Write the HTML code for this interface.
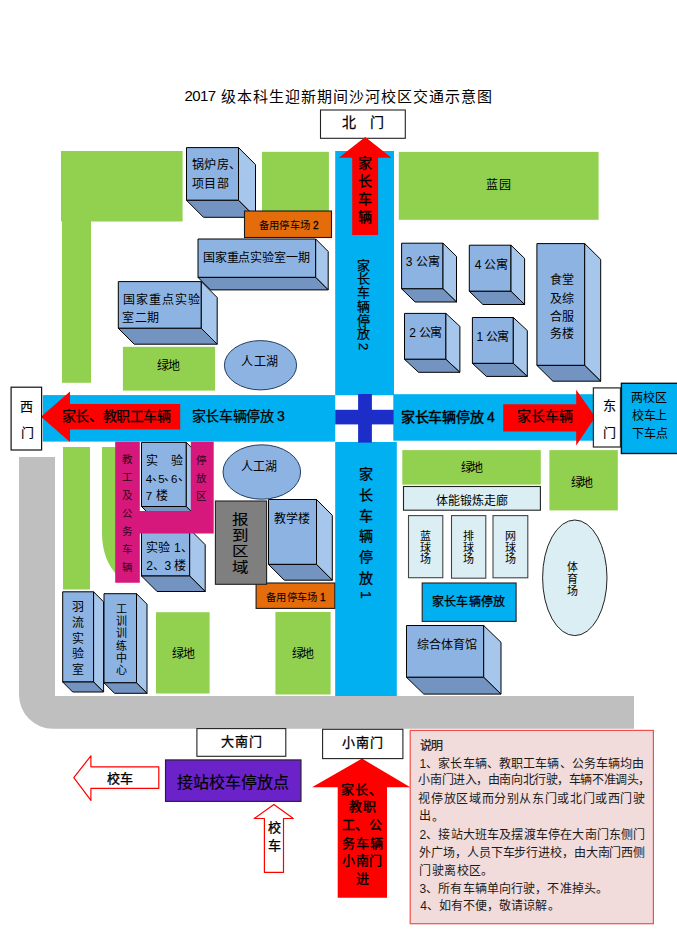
<!DOCTYPE html>
<html lang="zh-CN"><head><meta charset="utf-8"><style>
html,body{margin:0;padding:0;background:#fff;width:677px;height:942px;overflow:hidden;}
svg{position:absolute;left:0;top:0;}
text{font-family:"Liberation Sans",sans-serif;}
</style></head><body>
<svg width="677" height="942" viewBox="0 0 677 942">
<rect x="61" y="151" width="121.60" height="70.50" fill="#92D050"/>
<rect x="62" y="221" width="29.00" height="161.80" fill="#92D050"/>
<rect x="262" y="151.8" width="66.90" height="63.20" fill="#92D050"/>
<rect x="398.8" y="151.9" width="199.80" height="67.90" fill="#92D050"/>
<rect x="122.9" y="346.8" width="92.20" height="43.80" fill="#92D050"/>
<rect x="63" y="447" width="27.00" height="142.50" fill="#92D050"/>
<path d="M102,447 L118,447 L118,576 C108,566 102,552 102,533 Z" fill="#92D050"/>
<rect x="156" y="612.2" width="53.60" height="81.30" fill="#92D050"/>
<rect x="275.4" y="612" width="55.20" height="82.50" fill="#92D050"/>
<rect x="402.3" y="450.1" width="138.50" height="34.50" fill="#92D050"/>
<rect x="549.4" y="450.1" width="68.40" height="60.30" fill="#92D050"/>
<path d="M19,457 L55,457 L55,696 L634,696 L634,728.8 L53,728.8 A34,34 0 0 1 19,694.8 Z" fill="#BFBFBF"/>
<rect x="335.2" y="151" width="58.80" height="244.20" fill="#00B0F0"/>
<rect x="42.8" y="395.1" width="292.40" height="46.50" fill="#00B0F0"/>
<rect x="393.3" y="394.2" width="200.70" height="46.50" fill="#00B0F0"/>
<rect x="335.2" y="442" width="61.60" height="254.00" fill="#00B0F0"/>
<rect x="358.1" y="394" width="13.80" height="48.60" fill="#1C2DC8"/>
<rect x="335.2" y="409.8" width="58.50" height="14.60" fill="#1C2DC8"/>
<polygon points="186.50,147.60 238.50,147.60 238.50,200.30 186.50,200.30" fill="#8DB3E2" stroke="#000" stroke-width="1.0" stroke-linejoin="round"/>
<polygon points="238.50,147.60 255.50,164.60 255.50,217.30 238.50,200.30" fill="#A7C6EC" stroke="#000" stroke-width="1.0" stroke-linejoin="round"/>
<polygon points="186.50,200.30 238.50,200.30 255.50,217.30 203.50,217.30" fill="#7393C1" stroke="#000" stroke-width="1.0" stroke-linejoin="round"/>
<polygon points="198.00,239.00 315.70,239.00 315.70,277.40 198.00,277.40" fill="#8DB3E2" stroke="#000" stroke-width="1.0" stroke-linejoin="round"/>
<polygon points="315.70,239.00 328.20,251.50 328.20,289.90 315.70,277.40" fill="#A7C6EC" stroke="#000" stroke-width="1.0" stroke-linejoin="round"/>
<polygon points="198.00,277.40 315.70,277.40 328.20,289.90 210.50,289.90" fill="#7393C1" stroke="#000" stroke-width="1.0" stroke-linejoin="round"/>
<polygon points="118.30,281.60 201.30,281.60 201.30,328.30 118.30,328.30" fill="#8DB3E2" stroke="#000" stroke-width="1.0" stroke-linejoin="round"/>
<polygon points="201.30,281.60 217.20,297.50 217.20,344.20 201.30,328.30" fill="#A7C6EC" stroke="#000" stroke-width="1.0" stroke-linejoin="round"/>
<polygon points="118.30,328.30 201.30,328.30 217.20,344.20 134.20,344.20" fill="#7393C1" stroke="#000" stroke-width="1.0" stroke-linejoin="round"/>
<polygon points="401.60,243.20 443.00,243.20 443.00,288.80 401.60,288.80" fill="#8DB3E2" stroke="#000" stroke-width="1.0" stroke-linejoin="round"/>
<polygon points="443.00,243.20 456.50,256.40 456.50,302.00 443.00,288.80" fill="#A7C6EC" stroke="#000" stroke-width="1.0" stroke-linejoin="round"/>
<polygon points="401.60,288.80 443.00,288.80 456.50,302.00 415.10,302.00" fill="#7393C1" stroke="#000" stroke-width="1.0" stroke-linejoin="round"/>
<polygon points="469.30,245.20 511.00,245.20 511.00,291.30 469.30,291.30" fill="#8DB3E2" stroke="#000" stroke-width="1.0" stroke-linejoin="round"/>
<polygon points="511.00,245.20 524.60,258.40 524.60,304.50 511.00,291.30" fill="#A7C6EC" stroke="#000" stroke-width="1.0" stroke-linejoin="round"/>
<polygon points="469.30,291.30 511.00,291.30 524.60,304.50 482.90,304.50" fill="#7393C1" stroke="#000" stroke-width="1.0" stroke-linejoin="round"/>
<polygon points="536.90,243.60 584.70,243.60 584.70,365.40 536.90,365.40" fill="#8DB3E2" stroke="#000" stroke-width="1.0" stroke-linejoin="round"/>
<polygon points="584.70,243.60 600.70,259.40 600.70,381.20 584.70,365.40" fill="#A7C6EC" stroke="#000" stroke-width="1.0" stroke-linejoin="round"/>
<polygon points="536.90,365.40 584.70,365.40 600.70,381.20 552.90,381.20" fill="#7393C1" stroke="#000" stroke-width="1.0" stroke-linejoin="round"/>
<polygon points="404.50,313.40 445.90,313.40 445.90,359.30 404.50,359.30" fill="#8DB3E2" stroke="#000" stroke-width="1.0" stroke-linejoin="round"/>
<polygon points="445.90,313.40 459.90,326.40 459.90,372.30 445.90,359.30" fill="#A7C6EC" stroke="#000" stroke-width="1.0" stroke-linejoin="round"/>
<polygon points="404.50,359.30 445.90,359.30 459.90,372.30 418.50,372.30" fill="#7393C1" stroke="#000" stroke-width="1.0" stroke-linejoin="round"/>
<polygon points="472.40,317.50 513.30,317.50 513.30,363.40 472.40,363.40" fill="#8DB3E2" stroke="#000" stroke-width="1.0" stroke-linejoin="round"/>
<polygon points="513.30,317.50 527.30,330.50 527.30,376.40 513.30,363.40" fill="#A7C6EC" stroke="#000" stroke-width="1.0" stroke-linejoin="round"/>
<polygon points="472.40,363.40 513.30,363.40 527.30,376.40 486.40,376.40" fill="#7393C1" stroke="#000" stroke-width="1.0" stroke-linejoin="round"/>
<polygon points="141.50,442.40 186.30,442.40 186.30,506.50 141.50,506.50" fill="#8DB3E2" stroke="#000" stroke-width="1.0" stroke-linejoin="round"/>
<polygon points="186.30,442.40 202.30,458.40 202.30,522.50 186.30,506.50" fill="#A7C6EC" stroke="#000" stroke-width="1.0" stroke-linejoin="round"/>
<polygon points="141.50,506.50 186.30,506.50 202.30,522.50 157.50,522.50" fill="#7393C1" stroke="#000" stroke-width="1.0" stroke-linejoin="round"/>
<polygon points="141.50,529.20 189.70,529.20 189.70,576.00 141.50,576.00" fill="#8DB3E2" stroke="#000" stroke-width="1.0" stroke-linejoin="round"/>
<polygon points="189.70,529.20 205.20,544.70 205.20,591.50 189.70,576.00" fill="#A7C6EC" stroke="#000" stroke-width="1.0" stroke-linejoin="round"/>
<polygon points="141.50,576.00 189.70,576.00 205.20,591.50 157.00,591.50" fill="#7393C1" stroke="#000" stroke-width="1.0" stroke-linejoin="round"/>
<polygon points="62.70,591.80 93.60,591.80 93.60,682.00 62.70,682.00" fill="#8DB3E2" stroke="#000" stroke-width="1.0" stroke-linejoin="round"/>
<polygon points="93.60,591.80 103.60,601.80 103.60,692.00 93.60,682.00" fill="#A7C6EC" stroke="#000" stroke-width="1.0" stroke-linejoin="round"/>
<polygon points="62.70,682.00 93.60,682.00 103.60,692.00 72.70,692.00" fill="#7393C1" stroke="#000" stroke-width="1.0" stroke-linejoin="round"/>
<polygon points="104.00,593.70 136.50,593.70 136.50,682.80 104.00,682.80" fill="#8DB3E2" stroke="#000" stroke-width="1.0" stroke-linejoin="round"/>
<polygon points="136.50,593.70 147.00,604.20 147.00,693.30 136.50,682.80" fill="#A7C6EC" stroke="#000" stroke-width="1.0" stroke-linejoin="round"/>
<polygon points="104.00,682.80 136.50,682.80 147.00,693.30 114.50,693.30" fill="#7393C1" stroke="#000" stroke-width="1.0" stroke-linejoin="round"/>
<polygon points="268.50,499.50 316.50,499.50 316.50,564.40 268.50,564.40" fill="#8DB3E2" stroke="#000" stroke-width="1.0" stroke-linejoin="round"/>
<polygon points="316.50,499.50 332.30,515.30 332.30,580.20 316.50,564.40" fill="#A7C6EC" stroke="#000" stroke-width="1.0" stroke-linejoin="round"/>
<polygon points="268.50,564.40 316.50,564.40 332.30,580.20 284.30,580.20" fill="#7393C1" stroke="#000" stroke-width="1.0" stroke-linejoin="round"/>
<polygon points="406.50,625.50 483.70,625.50 483.70,677.30 406.50,677.30" fill="#8DB3E2" stroke="#000" stroke-width="1.0" stroke-linejoin="round"/>
<polygon points="483.70,625.50 501.00,642.30 501.00,694.10 483.70,677.30" fill="#A7C6EC" stroke="#000" stroke-width="1.0" stroke-linejoin="round"/>
<polygon points="406.50,677.30 483.70,677.30 501.00,694.10 423.80,694.10" fill="#7393C1" stroke="#000" stroke-width="1.0" stroke-linejoin="round"/>
<rect x="244.5" y="211" width="87.00" height="26.50" fill="#E46C0A" stroke="#1a1a1a" stroke-width="1.1"/>
<rect x="256.1" y="583" width="78.70" height="25.40" fill="#E46C0A" stroke="#1a1a1a" stroke-width="1.1"/>
<ellipse cx="260.5" cy="365.25" rx="36.1" ry="24.65" fill="#8DB3E2" stroke="#243F60" stroke-width="1"/>
<ellipse cx="261.8" cy="472" rx="38.8" ry="27.2" fill="#8DB3E2" stroke="#243F60" stroke-width="1"/>
<ellipse cx="574.8" cy="577.8" rx="32.2" ry="57.8" fill="#DAEEF3" stroke="#222" stroke-width="1"/>
<polygon points="115.20,441.80 139.80,441.80 139.80,510.90 190.80,510.90 190.80,441.80 213.70,441.80 213.70,533.50 139.80,533.50 139.80,582.80 115.20,582.80" fill="#D6177B"/>
<rect x="215.4" y="501" width="51.20" height="83.30" fill="#7F7F7F" stroke="#222" stroke-width="1.1"/>
<polygon points="41.00,416.70 70.00,391.40 70.00,404.00 180.20,404.00 180.20,429.40 70.00,429.40 70.00,442.00" fill="#FF0000"/>
<polygon points="595.30,417.00 576.20,389.80 576.20,404.20 503.20,404.20 503.20,431.50 576.20,431.50 576.20,445.50" fill="#FF0000"/>
<polygon points="362.00,758.60 410.30,787.30 387.00,787.30 387.00,897.70 337.70,897.70 337.70,787.30 312.00,787.30" fill="#FF0000"/>
<polygon points="73.80,777.70 90.90,755.80 90.90,766.80 158.80,766.80 158.80,788.40 90.90,788.40 90.90,800.40" fill="#fff" stroke="#FF0000" stroke-width="1.2" stroke-linejoin="round"/>
<polygon points="273.90,804.50 293.30,818.50 283.50,818.50 283.50,872.30 264.40,872.30 264.40,818.50 254.20,818.50" fill="#fff" stroke="#FF0000" stroke-width="1.2" stroke-linejoin="round"/>
<rect x="320.5" y="110" width="84.80" height="28.30" fill="#fff" stroke="#222" stroke-width="1.1"/>
<rect x="11.1" y="387.2" width="30.50" height="62.80" fill="#fff" stroke="#111" stroke-width="1.2"/>
<rect x="593.4" y="387.9" width="27.10" height="59.10" fill="#fff" stroke="#333" stroke-width="1.3"/>
<rect x="196.9" y="728.6" width="88.90" height="27.70" fill="#fff" stroke="#222" stroke-width="1.1"/>
<rect x="322.6" y="729.3" width="80.30" height="29.30" fill="#fff" stroke="#222" stroke-width="1.1"/>
<polygon points="365.20,137.00 391.50,157.70 378.10,157.70 378.10,235.00 352.20,235.00 352.20,157.70 338.80,157.70" fill="#FF0000"/>
<rect x="621.4" y="383.3" width="68.60" height="70.20" fill="#00B0F0" stroke="#111" stroke-width="1.4"/>
<rect x="403.5" y="486.5" width="136.90" height="23.70" fill="#DAEEF3" stroke="#222" stroke-width="1.1"/>
<rect x="408.5" y="515.6" width="34.30" height="62.10" fill="#DAEEF3" stroke="#444" stroke-width="1.1"/>
<rect x="451.5" y="515.6" width="34.30" height="62.60" fill="#DAEEF3" stroke="#444" stroke-width="1.1"/>
<rect x="493" y="515.6" width="34.80" height="62.20" fill="#DAEEF3" stroke="#444" stroke-width="1.1"/>
<rect x="422.2" y="583" width="93.90" height="38.40" fill="#00B0F0" stroke="#222" stroke-width="1.1"/>
<rect x="165.5" y="759.9" width="135.50" height="41.50" fill="#6B22C8" stroke="#222" stroke-width="1.1"/>
<rect x="410.2" y="730.4" width="243.20" height="193.30" fill="#F2DCDB" stroke="#F0504D" stroke-width="1.2"/>
<g>
<text id="title0" x="184.61" y="95.75" font-size="15" fill="#000" textLength="31.41" lengthAdjust="spacing" dominant-baseline="central">2017</text>
<text id="title" x="221.37" y="96.75" font-size="15" fill="#000" textLength="270.93" lengthAdjust="spacing" dominant-baseline="central">级本科生迎新期间沙河校区交通示意图</text>
<text x="349.2" y="122.4" font-size="14" fill="#000" stroke="#000" stroke-width="0.25" text-anchor="middle" dominant-baseline="central">北</text>
<text x="376.5" y="122.4" font-size="14" fill="#000" stroke="#000" stroke-width="0.25" text-anchor="middle" dominant-baseline="central">门</text>
<text x="365.2" y="163" font-size="14" fill="#000" stroke="#000" stroke-width="0.35" text-anchor="middle" dominant-baseline="central">家</text>
<text x="365.2" y="181" font-size="14" fill="#000" stroke="#000" stroke-width="0.35" text-anchor="middle" dominant-baseline="central">长</text>
<text x="365.2" y="199" font-size="14" fill="#000" stroke="#000" stroke-width="0.35" text-anchor="middle" dominant-baseline="central">车</text>
<text x="365.2" y="217" font-size="14" fill="#000" stroke="#000" stroke-width="0.35" text-anchor="middle" dominant-baseline="central">辆</text>
<text id="glf" x="191.74" y="165.40" font-size="12" fill="#000" textLength="49.68" lengthAdjust="spacing" dominant-baseline="central">锅炉房、</text>
<text id="xmb" x="191.74" y="183.50" font-size="12" fill="#000" textLength="36.90" lengthAdjust="spacing" dominant-baseline="central">项目部</text>
<text id="bytcc2" x="258.58" y="225.95" font-size="10.3" fill="#000" textLength="51.46" lengthAdjust="spacing" dominant-baseline="central">备用停车场</text>
<text x="315.9" y="225.8" font-size="10" fill="#000" stroke="#000" stroke-width="0.3" text-anchor="middle" dominant-baseline="central">2</text>
<text id="gj1" x="202.56" y="257.60" font-size="12" fill="#000" textLength="107.82" lengthAdjust="spacing" dominant-baseline="central">国家重点实验室一期</text>
<text id="gj2a" x="122.94" y="300.40" font-size="12" fill="#000" textLength="77.52" lengthAdjust="spacing" dominant-baseline="central">国家重点实验</text>
<text id="gj2b" x="122.44" y="317.50" font-size="12" fill="#000" textLength="36.78" lengthAdjust="spacing" dominant-baseline="central">室二期</text>
<text id="ld1" x="157.30" y="365.50" font-size="12" fill="#000" textLength="23.18" lengthAdjust="spacing" dominant-baseline="central">绿地</text>
<text id="rgh1" x="241.06" y="361.50" font-size="12" fill="#000" textLength="37.16" lengthAdjust="spacing" dominant-baseline="central">人工湖</text>
<text id="ly" x="486.44" y="184.60" font-size="12" fill="#000" textLength="24.32" lengthAdjust="spacing" dominant-baseline="central">蓝园</text>
<text id="gy3" x="405.86" y="261.60" font-size="12" fill="#000" textLength="33.82" lengthAdjust="spacing" dominant-baseline="central">3 公寓</text>
<text id="gy4" x="474.72" y="265.10" font-size="12" fill="#000" textLength="33.02" lengthAdjust="spacing" dominant-baseline="central">4 公寓</text>
<text id="gy2" x="409.34" y="332.50" font-size="12" fill="#000" textLength="33.02" lengthAdjust="spacing" dominant-baseline="central">2 公寓</text>
<text id="gy1" x="476.42" y="336.50" font-size="12" fill="#000" textLength="32.94" lengthAdjust="spacing" dominant-baseline="central">1 公寓</text>
<text id="st1" x="549.98" y="280.20" font-size="12" fill="#000" textLength="24.40" lengthAdjust="spacing" dominant-baseline="central">食堂</text>
<text id="st2" x="549.98" y="298.70" font-size="12" fill="#000" textLength="23.60" lengthAdjust="spacing" dominant-baseline="central">及综</text>
<text id="st3" x="549.98" y="316.60" font-size="12" fill="#000" textLength="23.60" lengthAdjust="spacing" dominant-baseline="central">合服</text>
<text id="st4" x="549.98" y="334.40" font-size="12" fill="#000" textLength="24.40" lengthAdjust="spacing" dominant-baseline="central">务楼</text>
<text x="363.7" y="265.2" font-size="13" fill="#000" stroke="#000" stroke-width="0.25" text-anchor="middle" dominant-baseline="central">家</text>
<text x="363.7" y="278.9" font-size="13" fill="#000" stroke="#000" stroke-width="0.25" text-anchor="middle" dominant-baseline="central">长</text>
<text x="363.7" y="292.59999999999997" font-size="13" fill="#000" stroke="#000" stroke-width="0.25" text-anchor="middle" dominant-baseline="central">车</text>
<text x="363.7" y="306.29999999999995" font-size="13" fill="#000" stroke="#000" stroke-width="0.25" text-anchor="middle" dominant-baseline="central">辆</text>
<text x="363.7" y="320.0" font-size="13" fill="#000" stroke="#000" stroke-width="0.25" text-anchor="middle" dominant-baseline="central">停</text>
<text x="363.7" y="333.7" font-size="13" fill="#000" stroke="#000" stroke-width="0.25" text-anchor="middle" dominant-baseline="central">放</text>
<text x="363.7" y="346.4" font-size="13.5" fill="#000" stroke="#000" stroke-width="0.2" text-anchor="middle" dominant-baseline="central" transform="rotate(90 363.7 346.4)">2</text>
<text id="p3" x="191.77" y="416.40" font-size="14" fill="#000" stroke="#000" stroke-width="0.25" textLength="93.14" lengthAdjust="spacing" dominant-baseline="central">家长车辆停放 3</text>
<text id="west" x="61.83" y="416.00" font-size="14" fill="#000" stroke="#000" stroke-width="0.25" textLength="109.02" lengthAdjust="spacing" dominant-baseline="central">家长、教职工车辆</text>
<text x="26.9" y="406.1" font-size="13" fill="#000" stroke="#000" stroke-width="0.15" text-anchor="middle" dominant-baseline="central">西</text>
<text x="27.1" y="432" font-size="13" fill="#000" stroke="#000" stroke-width="0.15" text-anchor="middle" dominant-baseline="central">门</text>
<text id="p4" x="400.77" y="417.00" font-size="14" fill="#000" stroke="#000" stroke-width="0.45" textLength="94.10" lengthAdjust="spacing" dominant-baseline="central">家长车辆停放 4</text>
<text id="east" x="516.77" y="416.00" font-size="14" fill="#000" stroke="#000" stroke-width="0.25" textLength="56.14" lengthAdjust="spacing" dominant-baseline="central">家长车辆</text>
<text x="609" y="405.3" font-size="13" fill="#000" stroke="#000" stroke-width="0.15" text-anchor="middle" dominant-baseline="central">东</text>
<text x="609" y="432.3" font-size="13" fill="#000" stroke="#000" stroke-width="0.15" text-anchor="middle" dominant-baseline="central">门</text>
<text id="lx1" x="631.44" y="398.10" font-size="12" fill="#000" textLength="36.02" lengthAdjust="spacing" dominant-baseline="central">两校区</text>
<text id="lx2" x="632.24" y="416.30" font-size="12" fill="#000" textLength="35.22" lengthAdjust="spacing" dominant-baseline="central">校车上</text>
<text id="lx3" x="632.24" y="433.50" font-size="12" fill="#000" textLength="36.02" lengthAdjust="spacing" dominant-baseline="central">下车点</text>
<text x="127.4" y="459.2" font-size="10.5" fill="#2a0818" text-anchor="middle" dominant-baseline="central">教</text>
<text x="127.4" y="477.09999999999997" font-size="10.5" fill="#2a0818" text-anchor="middle" dominant-baseline="central">工</text>
<text x="127.4" y="495.0" font-size="10.5" fill="#2a0818" text-anchor="middle" dominant-baseline="central">及</text>
<text x="127.4" y="512.9" font-size="10.5" fill="#2a0818" text-anchor="middle" dominant-baseline="central">公</text>
<text x="127.4" y="530.8" font-size="10.5" fill="#2a0818" text-anchor="middle" dominant-baseline="central">务</text>
<text x="127.4" y="548.7" font-size="10.5" fill="#2a0818" text-anchor="middle" dominant-baseline="central">车</text>
<text x="127.4" y="566.6" font-size="10.5" fill="#2a0818" text-anchor="middle" dominant-baseline="central">辆</text>
<text x="201.3" y="460.4" font-size="10.5" fill="#2a0818" text-anchor="middle" dominant-baseline="central">停</text>
<text x="201.3" y="478.0" font-size="10.5" fill="#2a0818" text-anchor="middle" dominant-baseline="central">放</text>
<text x="201.3" y="495.59999999999997" font-size="10.5" fill="#2a0818" text-anchor="middle" dominant-baseline="central">区</text>
<text id="sy1" x="145.56" y="461.20" font-size="12" fill="#000" textLength="37.90" lengthAdjust="spacing" dominant-baseline="central">实验</text>
<text x="149" y="478.5" font-size="11.5" fill="#000" text-anchor="middle" dominant-baseline="central">4</text>
<text x="157.5" y="477.4" font-size="12" fill="#000" text-anchor="middle" dominant-baseline="central">、</text>
<text x="161.5" y="478.5" font-size="11.5" fill="#000" text-anchor="middle" dominant-baseline="central">5</text>
<text x="170.1" y="477.4" font-size="12" fill="#000" text-anchor="middle" dominant-baseline="central">、</text>
<text x="174.3" y="478.5" font-size="11.5" fill="#000" text-anchor="middle" dominant-baseline="central">6</text>
<text x="183.7" y="477.4" font-size="12" fill="#000" text-anchor="middle" dominant-baseline="central">、</text>
<text x="149" y="495.6" font-size="11.5" fill="#000" text-anchor="middle" dominant-baseline="central">7</text>
<text x="162.1" y="496.4" font-size="12" fill="#000" text-anchor="middle" dominant-baseline="central">楼</text>
<text id="sy4" x="145.56" y="548.40" font-size="12" fill="#000" textLength="47.44" lengthAdjust="spacing" dominant-baseline="central">实验 1、</text>
<text id="sy5" x="146.36" y="565.50" font-size="12" fill="#000" textLength="39.44" lengthAdjust="spacing" dominant-baseline="central">2、3 楼</text>
<text id="rgh2" x="240.56" y="466.50" font-size="12" fill="#000" textLength="36.70" lengthAdjust="spacing" dominant-baseline="central">人工湖</text>
<text x="0" y="0" transform="translate(240.3 518.70) scale(1 0.86)" font-size="16.5" fill="#000" stroke="#000" stroke-width="0.15" text-anchor="middle" dominant-baseline="central">报</text>
<text x="0" y="0" transform="translate(240.3 534.70) scale(1 0.86)" font-size="16.5" fill="#000" stroke="#000" stroke-width="0.15" text-anchor="middle" dominant-baseline="central">到</text>
<text x="0" y="0" transform="translate(240.3 550.70) scale(1 0.86)" font-size="16.5" fill="#000" stroke="#000" stroke-width="0.15" text-anchor="middle" dominant-baseline="central">区</text>
<text x="0" y="0" transform="translate(240.3 566.70) scale(1 0.86)" font-size="16.5" fill="#000" stroke="#000" stroke-width="0.15" text-anchor="middle" dominant-baseline="central">域</text>
<text id="jxl" x="274.24" y="519.40" font-size="12" fill="#000" textLength="35.52" lengthAdjust="spacing" dominant-baseline="central">教学楼</text>
<text id="bytcc1" x="265.76" y="597.75" font-size="10.3" fill="#000" textLength="51.71" lengthAdjust="spacing" dominant-baseline="central">备用停车场</text>
<text x="322.9" y="597.7" font-size="10" fill="#000" stroke="#000" stroke-width="0.3" text-anchor="middle" dominant-baseline="central">1</text>
<text x="365.7" y="474.0" font-size="14" fill="#000" stroke="#000" stroke-width="0.3" text-anchor="middle" dominant-baseline="central">家</text>
<text x="365.7" y="494.8" font-size="14" fill="#000" stroke="#000" stroke-width="0.3" text-anchor="middle" dominant-baseline="central">长</text>
<text x="365.7" y="515.6" font-size="14" fill="#000" stroke="#000" stroke-width="0.3" text-anchor="middle" dominant-baseline="central">车</text>
<text x="365.7" y="536.4" font-size="14" fill="#000" stroke="#000" stroke-width="0.3" text-anchor="middle" dominant-baseline="central">辆</text>
<text x="365.7" y="557.2" font-size="14" fill="#000" stroke="#000" stroke-width="0.3" text-anchor="middle" dominant-baseline="central">停</text>
<text x="365.7" y="578.0" font-size="14" fill="#000" stroke="#000" stroke-width="0.3" text-anchor="middle" dominant-baseline="central">放</text>
<text x="365.7" y="594.8" font-size="14" fill="#000" stroke="#000" stroke-width="0.2" text-anchor="middle" dominant-baseline="central" transform="rotate(90 365.7 594.8)">1</text>
<text id="ld2" x="460.66" y="468.40" font-size="12" fill="#000" textLength="22.30" lengthAdjust="spacing" dominant-baseline="central">绿地</text>
<text id="tn" x="436.30" y="500.50" font-size="12" fill="#000" textLength="71.26" lengthAdjust="spacing" dominant-baseline="central">体能锻炼走廊</text>
<text id="ld3" x="571.26" y="482.60" font-size="12" fill="#000" textLength="22.22" lengthAdjust="spacing" dominant-baseline="central">绿地</text>
<text x="425.8" y="535.9" font-size="11" fill="#000" text-anchor="middle" dominant-baseline="central">蓝</text>
<text x="425.8" y="547.5" font-size="11" fill="#000" text-anchor="middle" dominant-baseline="central">球</text>
<text x="425.8" y="559.1" font-size="11" fill="#000" text-anchor="middle" dominant-baseline="central">场</text>
<text x="468.4" y="535.9" font-size="11" fill="#000" text-anchor="middle" dominant-baseline="central">排</text>
<text x="468.4" y="547.5" font-size="11" fill="#000" text-anchor="middle" dominant-baseline="central">球</text>
<text x="468.4" y="559.1" font-size="11" fill="#000" text-anchor="middle" dominant-baseline="central">场</text>
<text x="510.2" y="535.9" font-size="11" fill="#000" text-anchor="middle" dominant-baseline="central">网</text>
<text x="510.2" y="547.5" font-size="11" fill="#000" text-anchor="middle" dominant-baseline="central">球</text>
<text x="510.2" y="559.1" font-size="11" fill="#000" text-anchor="middle" dominant-baseline="central">场</text>
<text x="572.4" y="567.0" font-size="11" fill="#000" text-anchor="middle" dominant-baseline="central">体</text>
<text x="572.4" y="578.8" font-size="11" fill="#000" text-anchor="middle" dominant-baseline="central">育</text>
<text x="572.4" y="590.6" font-size="11" fill="#000" text-anchor="middle" dominant-baseline="central">场</text>
<text id="pbox" x="431.94" y="602.10" font-size="12" fill="#000" stroke="#000" stroke-width="0.3" textLength="73.02" lengthAdjust="spacing" dominant-baseline="central">家长车辆停放</text>
<text id="zh" x="416.56" y="645.30" font-size="12" fill="#000" textLength="59.98" lengthAdjust="spacing" dominant-baseline="central">综合体育馆</text>
<text x="78.1" y="606.8" font-size="12" fill="#000" text-anchor="middle" dominant-baseline="central">羽</text>
<text x="78.1" y="622.65" font-size="12" fill="#000" text-anchor="middle" dominant-baseline="central">流</text>
<text x="78.1" y="638.5" font-size="12" fill="#000" text-anchor="middle" dominant-baseline="central">实</text>
<text x="78.1" y="654.3499999999999" font-size="12" fill="#000" text-anchor="middle" dominant-baseline="central">验</text>
<text x="78.1" y="670.1999999999999" font-size="12" fill="#000" text-anchor="middle" dominant-baseline="central">室</text>
<text x="121.2" y="608.6" font-size="11" fill="#000" text-anchor="middle" dominant-baseline="central">工</text>
<text x="121.2" y="620.9" font-size="11" fill="#000" text-anchor="middle" dominant-baseline="central">训</text>
<text x="121.2" y="633.2" font-size="11" fill="#000" text-anchor="middle" dominant-baseline="central">训</text>
<text x="121.2" y="645.5" font-size="11" fill="#000" text-anchor="middle" dominant-baseline="central">练</text>
<text x="121.2" y="657.8000000000001" font-size="11" fill="#000" text-anchor="middle" dominant-baseline="central">中</text>
<text x="121.2" y="670.1" font-size="11" fill="#000" text-anchor="middle" dominant-baseline="central">心</text>
<text id="ld4" x="171.78" y="653.70" font-size="12" fill="#000" textLength="23.68" lengthAdjust="spacing" dominant-baseline="central">绿地</text>
<text id="ld5" x="291.80" y="653.70" font-size="12" fill="#000" textLength="22.68" lengthAdjust="spacing" dominant-baseline="central">绿地</text>
<text id="dnm" x="221.16" y="741.90" font-size="13" fill="#000" stroke="#000" stroke-width="0.3" textLength="40.81" lengthAdjust="spacing" dominant-baseline="central">大南门</text>
<text id="xnm" x="342.22" y="742.10" font-size="13" fill="#000" stroke="#000" stroke-width="0.3" textLength="41.23" lengthAdjust="spacing" dominant-baseline="central">小南门</text>
<text id="xc1" x="106.60" y="778.10" font-size="13" fill="#000" stroke="#000" stroke-width="0.3" textLength="26.55" lengthAdjust="spacing" dominant-baseline="central">校车</text>
<text id="jz" x="176.91" y="782.80" font-size="16" fill="#000" stroke="#000" stroke-width="0.15" textLength="112.22" lengthAdjust="spacing" dominant-baseline="central">接站校车停放点</text>
<text x="274.3" y="827.8" font-size="13" fill="#000" stroke="#000" stroke-width="0.3" text-anchor="middle" dominant-baseline="central">校</text>
<text x="274.3" y="845.9" font-size="13" fill="#000" stroke="#000" stroke-width="0.3" text-anchor="middle" dominant-baseline="central">车</text>
<text id="a1" x="341.40" y="789.00" font-size="13" fill="#000" stroke="#000" stroke-width="0.35" textLength="40.93" lengthAdjust="spacing" dominant-baseline="central">家长、</text>
<text id="a2" x="348.72" y="806.70" font-size="13" fill="#000" stroke="#000" stroke-width="0.35" textLength="26.89" lengthAdjust="spacing" dominant-baseline="central">教职</text>
<text id="a3" x="342.10" y="824.80" font-size="13" fill="#000" stroke="#000" stroke-width="0.35" textLength="39.51" lengthAdjust="spacing" dominant-baseline="central">工、公</text>
<text id="a4" x="342.10" y="843.10" font-size="13" fill="#000" stroke="#000" stroke-width="0.35" textLength="40.59" lengthAdjust="spacing" dominant-baseline="central">务车辆</text>
<text id="a5" x="342.10" y="860.80" font-size="13" fill="#000" stroke="#000" stroke-width="0.35" textLength="40.31" lengthAdjust="spacing" dominant-baseline="central">小南门</text>
<text id="a6" x="355.60" y="878.20" font-size="13" fill="#000" stroke="#000" stroke-width="0.35" textLength="24.33" lengthAdjust="spacing" dominant-baseline="central">进</text>
<text x="425.4" y="816.3" font-size="12" fill="#1a1a1a" text-anchor="middle" dominant-baseline="central">出</text>
<text x="438" y="816.5" font-size="12" fill="#1a1a1a" text-anchor="middle" dominant-baseline="central">。</text>
<text id="n0" x="420.22" y="746.10" font-size="12" fill="#1a1a1a" stroke="#1a1a1a" stroke-width="0.25" textLength="22.38" lengthAdjust="spacing" dominant-baseline="central">说明</text>
<text id="n1" x="419.42" y="763.60" font-size="12" fill="#1a1a1a" textLength="224.94" lengthAdjust="spacing" dominant-baseline="central">1、家长车辆、教职工车辆、公务车辆均由</text>
<text id="n2" x="418.42" y="780.40" font-size="12" fill="#1a1a1a" textLength="231.86" lengthAdjust="spacing" dominant-baseline="central">小南门进入，由南向北行驶，车辆不准调头，</text>
<text id="n3" x="418.42" y="799.10" font-size="12" fill="#1a1a1a" textLength="226.66" lengthAdjust="spacing" dominant-baseline="central">视停放区域而分别从东门或北门或西门驶</text>
<text id="n5" x="419.44" y="834.50" font-size="12" fill="#1a1a1a" textLength="225.74" lengthAdjust="spacing" dominant-baseline="central">2、接站大班车及摆渡车停在大南门东侧门</text>
<text id="n6" x="419.44" y="853.30" font-size="12" fill="#1a1a1a" textLength="225.74" lengthAdjust="spacing" dominant-baseline="central">外广场，人员下车步行进校，由大南门西侧</text>
<text id="n7" x="419.44" y="871.10" font-size="12" fill="#1a1a1a" textLength="74.02" lengthAdjust="spacing" dominant-baseline="central">门驶离校区。</text>
<text id="n8" x="419.44" y="888.50" font-size="12" fill="#1a1a1a" textLength="188.52" lengthAdjust="spacing" dominant-baseline="central">3、所有车辆单向行驶，不准掉头。</text>
<text id="n9" x="420.24" y="906.10" font-size="12" fill="#1a1a1a" textLength="139.26" lengthAdjust="spacing" dominant-baseline="central">4、如有不便，敬请谅解。</text>
</g>
</svg>
</body></html>
